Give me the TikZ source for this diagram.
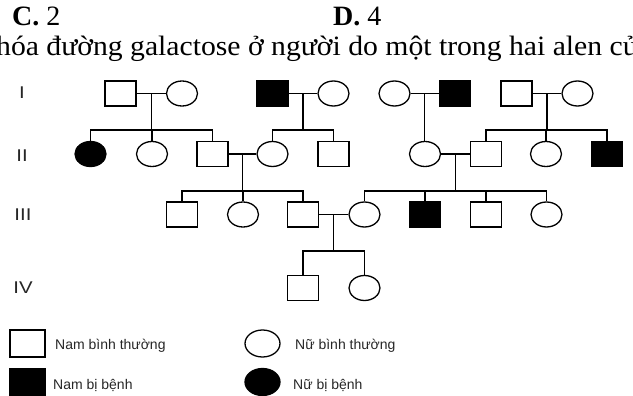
\documentclass[tikz,border=0pt]{standalone}
\usepackage{fontspec}
\usepackage{graphicx}
\setmainfont{Liberation Serif}
\newfontfamily\arialf{Liberation Sans}
\usetikzlibrary{shapes.geometric,calc}
\begin{document}
\begin{tikzpicture}[x=1pt,y=-1pt,
 sq/.style={draw, rectangle, line width=1.3pt, minimum width=31pt, minimum height=25pt, inner sep=0pt},
 ci/.style={draw, ellipse, line width=1.3pt, minimum width=31pt, minimum height=25pt, inner sep=0pt},
 lsq/.style={sq, minimum width=35pt, minimum height=27pt},
 lci/.style={ci, minimum width=35pt, minimum height=27pt},
 aff/.style={fill=black},
 ln/.style={line width=1.3pt},
 gen/.style={font=\arialf\fontsize{17}{20}\selectfont, anchor=base, inner sep=0pt, text=black!85},
 leg/.style={font=\arialf\fontsize{14}{16}\selectfont, anchor=base west, inner sep=0pt, text=black!85},
 toptext/.style={font=\fontsize{28}{32}\selectfont, anchor=base west, inner sep=0pt}]
\useasboundingbox (0,0) rectangle (633,396);
\clip (0,0) rectangle (633,396);
% header text
\node[toptext] (tc) at (12,26) {\textbf{C.} 2};
\node[toptext] (td) at (333,26) {\textbf{D.} 4};
\node[toptext] (tl) at (-4,56) {\scalebox{1.06}[1]{hóa đường galactose ở người do một trong hai alen củ}};
% generation labels
\node[gen] (gI) at (22,99) {\scalebox{1.2}[1]{I}};
\node[gen] (gII) at (22,161) {\scalebox{1.2}[1]{II}};
\node[gen] (gIII) at (23,221) {\scalebox{1.2}[1]{III}};
\node[gen] (gIV) at (23,293) {\scalebox{1.2}[1]{IV}};
% row I
\node[sq] (i1) at (120.5,93.5) {};
\node[ci] (i2) at (182,93.5) {};
\node[sq,aff] (i3) at (272.5,93.5) {};
\node[ci] (i4) at (333.5,93.5) {};
\node[ci] (i5) at (394.5,93.5) {};
\node[sq,aff] (i6) at (455,93.5) {};
\node[sq] (i7) at (516.5,93.5) {};
\node[ci] (i8) at (577.5,93.5) {};
% row II
\node[ci,aff] (ii1) at (90.5,154) {};
\node[ci] (ii2) at (152,154) {};
\node[sq] (ii3) at (212.5,154) {};
\node[ci] (ii4) at (272.5,154) {};
\node[sq] (ii5) at (333.5,154) {};
\node[ci] (ii6) at (425,154) {};
\node[sq] (ii7) at (486,154) {};
\node[ci] (ii8) at (546,154) {};
\node[sq,aff] (ii9) at (607,154) {};
% row III
\node[sq] (iii1) at (182,214.5) {};
\node[ci] (iii2) at (243,214.5) {};
\node[sq] (iii3) at (303,214.5) {};
\node[ci] (iii4) at (364.5,214.5) {};
\node[sq,aff] (iii5) at (425,214.5) {};
\node[sq] (iii6) at (486,214.5) {};
\node[ci] (iii7) at (546.5,214.5) {};
% row IV
\node[sq] (iv1) at (303,288) {};
\node[ci] (iv2) at (364.5,288) {};
% couples
\draw[ln] (i1) -- (i2);
\draw[ln] (i3) -- (i4);
\draw[ln] (i5) -- (i6);
\draw[ln] (i7) -- (i8);
\draw[ln] (ii3) -- (ii4);
\draw[ln] (ii6) -- (ii7);
\draw[ln] (iii3) -- (iii4);
\coordinate (c1) at ($(i1.east)!0.5!(i2.west)$);
\coordinate (c2) at ($(i3.east)!0.5!(i4.west)$);
\coordinate (c3) at ($(i5.east)!0.5!(i6.west)$);
\coordinate (c4) at ($(i7.east)!0.5!(i8.west)$);
\coordinate (c5) at ($(ii3.east)!0.5!(ii4.west)$);
\coordinate (c6) at ($(ii6.east)!0.5!(ii7.west)$);
\coordinate (c7) at ($(iii3.east)!0.5!(iii4.west)$);
% family 1
\draw[ln] (c1) -- (c1 |- 0,130);
\draw[ln] (ii1.north) |- (ii3.north |- 0,130) -- (ii3.north);
\draw[ln] (ii2.north) -- (ii2.north |- 0,130);
% family 2
\draw[ln] (c2) -- (c2 |- 0,130);
\draw[ln] (ii4.north) |- (ii5.north |- 0,130) -- (ii5.north);
% family 3
\draw[ln] (c3) -- (c3 |- ii6.north);
% family 4
\draw[ln] (c4) -- (c4 |- 0,130);
\draw[ln] (ii7.north) |- (ii9.north |- 0,130) -- (ii9.north);
\draw[ln] (ii8.north) -- (ii8.north |- 0,130);
% family 5
\draw[ln] (c5) -- (c5 |- 0,191);
\draw[ln] (iii1.north) |- (iii3.north |- 0,191) -- (iii3.north);
\draw[ln] (iii2.north) -- (iii2.north |- 0,191);
% family 6
\draw[ln] (c6) -- (c6 |- 0,191);
\draw[ln] (iii4.north) |- (iii7.north |- 0,191) -- (iii7.north);
\draw[ln] (iii5.north) -- (iii5.north |- 0,191);
\draw[ln] (iii6.north) -- (iii6.north |- 0,191);
% family 7
\draw[ln] (c7) -- (c7 |- 0,251);
\draw[ln] (iv1.north) |- (iv2.north |- 0,251) -- (iv2.north);
% legend
\node[lsq] (l1) at (27.5,343.5) {};
\node[lsq,aff] (l2) at (27.5,382) {};
\node[lci] (l3) at (262.5,343.5) {};
\node[lci,aff] (l4) at (262.5,382) {};
\node[leg] (t1) at (55,349) {Nam bình thường};
\node[leg] (t2) at (53,389) {Nam bị bệnh};
\node[leg] (t3) at (295,349) {Nữ bình thường};
\node[leg] (t4) at (293,389) {Nữ bị bệnh};
\end{tikzpicture}
\end{document}
